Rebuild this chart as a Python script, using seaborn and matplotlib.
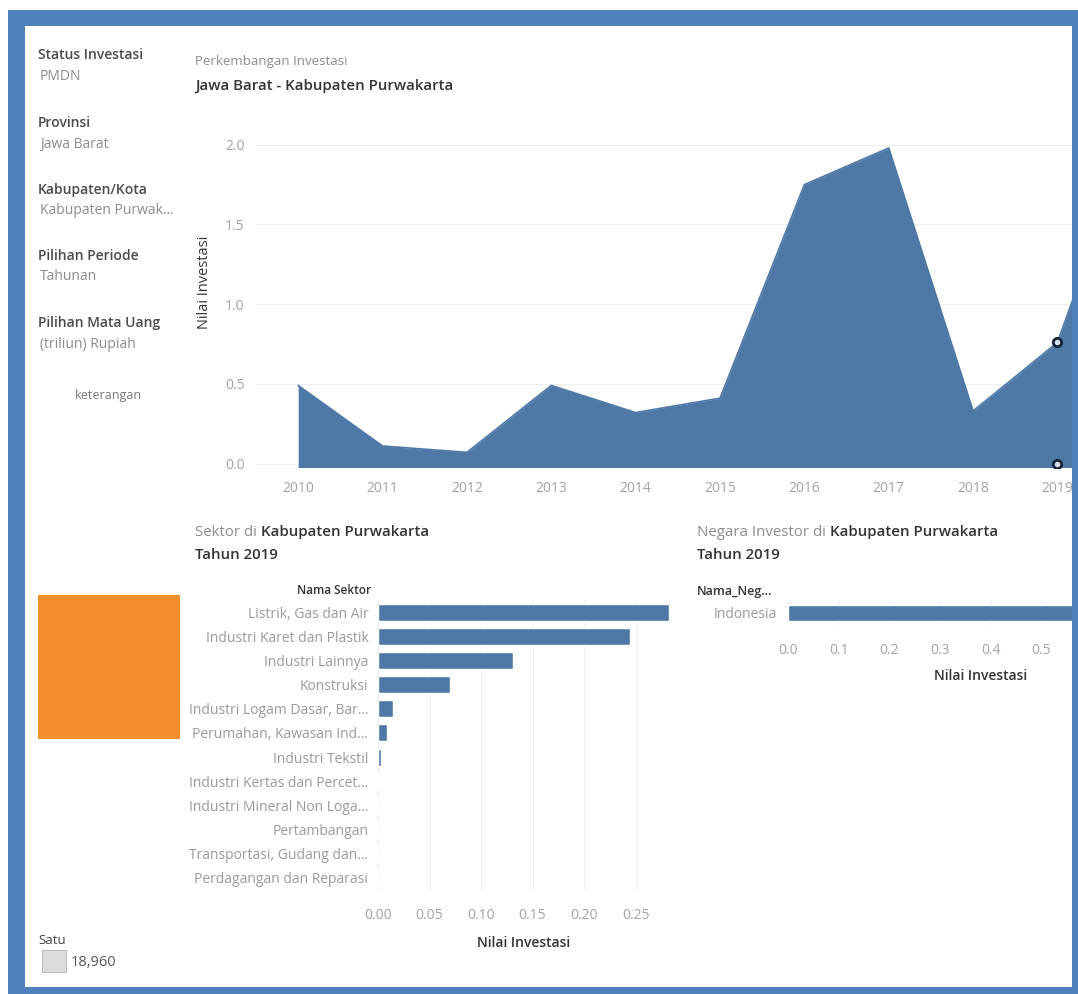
import matplotlib
matplotlib.use("Agg")
import matplotlib.pyplot as plt
from matplotlib.patches import Rectangle
import seaborn as sns
import pandas as pd

# ---- data -------------------------------------------------------------
years = [2010, 2011, 2012, 2013, 2014, 2015, 2016, 2017, 2018, 2019, 2020]
investasi = [0.49, 0.11, 0.07, 0.49, 0.32, 0.41, 1.75, 1.98, 0.33, 0.76, 2.24]
year_ticks = [2010, 2011, 2012, 2013, 2014, 2015, 2016, 2017, 2018, 2019]
y_ticks = [0.0, 0.5, 1.0, 1.5, 2.0]

sektor = ["Listrik, Gas dan Air", "Industri Karet dan Plastik", "Industri Lainnya",
          "Konstruksi", "Industri Logam Dasar, Bar…", "Perumahan, Kawasan Ind…",
          "Industri Tekstil", "Industri Kertas dan Percet…", "Industri Mineral Non Loga…",
          "Pertambangan", "Transportasi, Gudang dan…", "Perdagangan dan Reparasi"]
sektor_nilai = [0.2825, 0.245, 0.131, 0.070, 0.0146, 0.0087, 0.003, 0.0013,
                0.0, 0.0, 0.0, 0.0]
sektor_ticks = [0.00, 0.05, 0.10, 0.15, 0.20, 0.25]

negara = ["Indonesia"]
negara_nilai = [0.76]
negara_ticks = [0.0, 0.1, 0.2, 0.3, 0.4, 0.5]

filters = [("Status Investasi", "PMDN"), ("Provinsi", "Jawa Barat"),
           ("Kabupaten/Kota", "Kabupaten Purwak…"), ("Pilihan Periode", "Tahunan"),
           ("Pilihan Mata Uang", "(triliun) Rupiah")]
satu_value = "18,960"

# ---- style ------------------------------------------------------------
sns.set_theme(style="white")
plt.rcParams["font.family"] = ["Open Sans", "DejaVu Sans"]

BLUE = "#4e79a7"
ORANGE = "#f28e2b"
FRAME = "#4f81bd"
DARK = "#333333"
GRAY = "#8c8c8c"
TICK = "#a3a3a3"
GRID = "#eeeeee"
TITLE = 10.8
TICKSIZE = 10

W, H = 1078, 994
fig = plt.figure(figsize=(W / 100, H / 100), dpi=100)
fig.patch.set_facecolor("white")


def fx(x):
    return x / W


def fy(y):
    return 1 - y / H


def box(x0, y0, x1, y1):
    return [fx(x0), fy(y1), (x1 - x0) / W, (y1 - y0) / H]


renderer = fig.canvas.get_renderer()


def two_part(x, y, first, second, size=TITLE):
    t = fig.text(fx(x), fy(y), first, color=GRAY, fontsize=size, va="center", ha="left")
    bb = t.get_window_extent(renderer)
    fig.text(bb.x1 / W, fy(y), second, color=DARK, fontsize=size,
             fontweight="semibold", va="center", ha="left")


# ---- area chart: investment over time ---------------------------------
ax1 = fig.add_axes(box(256, 97, 1184, 467.5))
sns.lineplot(x=years, y=investasi, ax=ax1, color=BLUE, linewidth=1.2)
ax1.fill_between(years, investasi, -0.025, color=BLUE, linewidth=0)
ax1.set_xlim(2009.5, 2020.5)
ax1.set_ylim(-0.025, 2.3)
ax1.set_xticks(year_ticks)
ax1.set_xticklabels([str(y) for y in year_ticks])
ax1.set_yticks(y_ticks)
ax1.set_yticklabels([f"{v:.1f}" for v in y_ticks])
ax1.tick_params(axis="both", length=0, labelsize=TICKSIZE, colors=TICK)
ax1.tick_params(axis="x", pad=10)
ax1.tick_params(axis="y", pad=8)
ax1.grid(axis="y", color=GRID, linewidth=0.8)
ax1.set_axisbelow(True)
for s in ax1.spines.values():
    s.set_visible(False)
ax1.set_xlabel("")
ax1.set_ylabel("Nilai Investasi", fontsize=10.5, color=DARK)
ax1.yaxis.set_label_coords((212 - 256) / (1184 - 256), 0.5)
# highlighted marks for 2019
ax1.plot([2019, 2019], [investasi[9], 0.0], linestyle="none", marker="o",
         markersize=6, markerfacecolor="#d8e0ea", markeredgecolor="#16243a",
         markeredgewidth=2, zorder=5)

fig.text(fx(195), fy(62), "Perkembangan Investasi", color=GRAY, fontsize=9.5, va="center")
fig.text(fx(195), fy(86), "Jawa Barat - Kabupaten Purwakarta", color=DARK,
         fontsize=TITLE, fontweight="semibold", va="center")

# ---- sector bar chart -------------------------------------------------
ax2 = fig.add_axes(box(378, 600, 669, 890))
df_sektor = pd.DataFrame({"Nama Sektor": sektor, "Nilai Investasi": sektor_nilai})
sns.barplot(data=df_sektor, x="Nilai Investasi", y="Nama Sektor", orient="h",
            color=BLUE, saturation=1, width=0.7, ax=ax2)
ax2.set_xlim(0, 0.2825)
ax2.set_ylim(11.5, -0.5)
ax2.set_xticks(sektor_ticks)
ax2.set_xticklabels([f"{v:.2f}" for v in sektor_ticks])
ax2.tick_params(axis="both", length=0, labelsize=TICKSIZE, colors=TICK)
ax2.tick_params(axis="y", pad=7)
ax2.tick_params(axis="x", pad=13)
ax2.grid(axis="x", color=GRID, linewidth=0.8)
ax2.set_axisbelow(True)
for s in ax2.spines.values():
    s.set_visible(False)
ax2.axvline(0, color="#e2e2e2", linewidth=0.8, zorder=0)
ax2.set_ylabel("")
ax2.set_xlabel("Nilai Investasi", fontsize=10, color=DARK, fontweight="semibold", labelpad=9)
for lbl in ax2.get_yticklabels():
    lbl.set_color("#9a9a9a")

two_part(195, 532, "Sektor di ", "Kabupaten Purwakarta")
fig.text(fx(195), fy(555), "Tahun 2019", color=DARK, fontsize=TITLE,
         fontweight="semibold", va="center")
fig.text(fx(371), fy(590), "Nama Sektor", color=DARK, fontsize=8.5,
         fontweight="semibold", va="center", ha="right")

# ---- investor country bar chart ---------------------------------------
ax3 = fig.add_axes(box(788, 601, 1173, 625))
df_negara = pd.DataFrame({"Nama_Negara": negara, "Nilai Investasi": negara_nilai})
sns.barplot(data=df_negara, x="Nilai Investasi", y="Nama_Negara", orient="h",
            color=BLUE, saturation=1, width=0.7, ax=ax3)
ax3.set_xlim(0, 0.76)
ax3.set_ylim(0.5, -0.5)
ax3.set_xticks(negara_ticks)
ax3.set_xticklabels([f"{v:.1f}" for v in negara_ticks])
ax3.tick_params(axis="both", length=0, labelsize=TICKSIZE, colors=TICK)
ax3.tick_params(axis="y", pad=8)
ax3.tick_params(axis="x", pad=13)
ax3.grid(axis="x", color=GRID, linewidth=0.8)
ax3.set_axisbelow(True)
for s in ax3.spines.values():
    s.set_visible(False)
ax3.set_ylabel("")
ax3.set_xlabel("Nilai Investasi", fontsize=10, color=DARK, fontweight="semibold", labelpad=8)
for lbl in ax3.get_yticklabels():
    lbl.set_color("#9a9a9a")

two_part(697, 532, "Negara Investor di ", "Kabupaten Purwakarta")
fig.text(fx(697), fy(555), "Tahun 2019", color=DARK, fontsize=TITLE,
         fontweight="semibold", va="center")
fig.text(fx(697), fy(592), "Nama_Neg…", color=DARK, fontsize=9,
         fontweight="semibold", va="center", ha="left")

# ---- filter panel -----------------------------------------------------
ys = [55, 123, 190, 256, 323]
for (label, value), y in zip(filters, ys):
    fig.text(fx(38), fy(y), label, color="#4a4a4a", fontsize=10,
             fontweight="semibold", va="center")
    fig.text(fx(40), fy(y + 21), value, color=GRAY, fontsize=10, va="center")
fig.text(fx(108), fy(396), "keterangan", color="#777777", fontsize=9, va="center", ha="center")

fig.add_artist(Rectangle((fx(38), fy(739)), (180 - 38) / W, (739 - 595) / H,
                         transform=fig.transFigure, facecolor=ORANGE,
                         edgecolor="none", zorder=3))

fig.text(fx(38), fy(940), "Satu", color="#444444", fontsize=9.5, va="center")
fig.add_artist(Rectangle((fx(42), fy(972)), 24 / W, 22 / H, transform=fig.transFigure,
                         facecolor="#dcdcdc", edgecolor="#bdbdbd", linewidth=0.8, zorder=3))
fig.text(fx(71), fy(962), satu_value, color="#555555", fontsize=10.5, va="center")

# ---- dashboard frame --------------------------------------------------
frame_parts = [
    (0, 0, W, 10, "white"), (0, 0, 8, H, "white"),
    (8, 10, W, 26, FRAME), (8, 10, 25, H, FRAME),
    (1072, 10, W, H, FRAME), (8, 987, W, H, FRAME),
]
for x0, y0, x1, y1, c in frame_parts:
    fig.add_artist(Rectangle((fx(x0), fy(y1)), (x1 - x0) / W, (y1 - y0) / H,
                             transform=fig.transFigure, facecolor=c,
                             edgecolor="none", zorder=20))

fig.savefig("out.png", dpi=100, facecolor="white")
